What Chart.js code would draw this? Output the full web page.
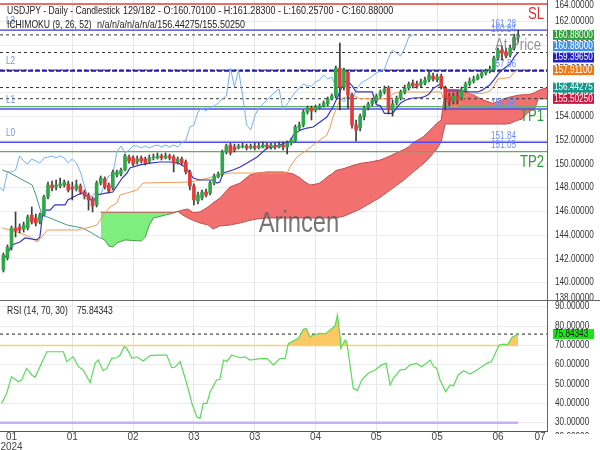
<!DOCTYPE html>
<html>
<head>
<meta charset="utf-8">
<script src="https://cdn.jsdelivr.net/npm/chart.js@4.4.1/dist/chart.umd.min.js"></script>
<style>
  body { margin: 0; background: #fff; }
  #wrap { position: relative; width: 600px; height: 450px; }
  canvas { position: absolute; left: 0; }
</style>
</head>
<body>
<div id="wrap">
  <canvas id="priceChart" width="600" height="300" style="top:0"></canvas>
  <canvas id="rsiChart" width="600" height="150" style="top:300px"></canvas>
</div>
<script>
// daily candles, USDJPY (bar index 0 = first visible day)
const opens = [141.07,142.08,143.01,144.61,144.69,144.52,144.61,145.70,145.45,145.11,
  145.70,147.22,148.23,148.06,148.15,148.23,148.32,148.06,147.89,148.15,
  147.64,147.39,147.05,146.55,148.40,148.74,148.23,147.98,149.07,149.16,
  149.49,150.59,150.51,150.17,150.51,150.42,150.25,150.51,150.51,150.68,
  150.51,150.68,150.59,150.17,150.42,150.17,149.33,148.15,146.88,147.13,
  147.64,147.56,148.40,148.91,149.16,151.01,151.60,151.43,151.35,151.43,
  151.52,151.35,151.52,151.35,151.43,151.60,151.43,151.52,151.43,151.60,
  151.43,151.77,151.94,153.03,153.29,154.38,154.72,154.55,154.72,154.89,
  155.06,155.48,155.73,158.09,156.49,157.75,155.81,153.29,153.03,153.96,
  154.72,155.06,155.31,155.73,156.07,156.40,154.55,155.14,155.56,156.07,
  156.40,156.82,156.74,156.66,156.82,157.08,157.41,157.08,157.41,156.40,
  155.73,155.31,155.73,155.56,156.23,156.74,156.99,157.16,157.41,157.67,
  157.84,157.92,158.93,159.60,159.44,159.18,159.77,160.701];
const highs = [142.50,143.18,144.78,145.96,144.95,145.11,145.70,146.38,145.79,145.87,
  147.39,148.48,148.57,148.65,148.82,148.65,148.57,148.48,148.65,148.32,
  147.81,147.56,147.22,148.57,148.99,148.91,148.40,149.49,149.49,149.66,
  150.84,150.76,150.68,150.68,150.68,150.59,150.76,150.84,150.93,150.84,
  150.93,150.84,150.76,150.59,150.59,150.34,149.49,148.32,147.64,147.81,
  147.89,148.57,149.16,149.33,151.18,151.68,151.77,151.68,151.68,151.77,
  151.68,151.68,151.77,151.77,151.85,151.77,151.77,151.77,151.85,151.85,
  151.94,152.19,153.29,153.54,154.55,154.89,154.89,154.97,155.06,155.31,
  155.65,155.90,158.26,160.19,158.09,157.92,155.98,153.71,154.21,154.89,
  155.22,155.56,155.90,156.23,156.57,156.57,155.39,155.73,156.23,156.66,
  156.91,157.08,156.99,157.16,157.33,157.75,157.67,157.58,157.58,156.57,
  155.98,155.98,156.07,156.49,156.91,157.25,157.41,157.58,157.84,158.00,
  158.26,159.10,159.77,159.94,159.77,160.03,160.95,161.283];
const lows = [140.90,141.91,142.75,143.85,144.19,144.27,144.44,144.95,144.78,144.95,
  145.62,147.05,147.73,147.81,147.98,148.06,147.64,146.97,147.73,147.47,
  147.05,146.12,145.96,146.38,148.23,147.89,147.56,147.81,148.91,148.99,
  149.41,150.08,149.83,150.00,150.08,149.92,150.08,150.34,150.42,150.34,
  150.42,150.34,149.33,150.00,149.92,149.16,147.81,146.55,146.63,146.97,
  147.22,147.39,148.23,148.82,148.99,150.84,150.76,151.01,151.26,151.35,
  151.18,151.26,151.18,151.26,151.35,151.26,151.26,151.26,151.35,151.18,
  150.84,151.60,151.85,152.86,153.12,154.21,153.71,154.38,154.64,154.80,
  154.89,155.39,155.56,154.55,156.23,154.72,153.03,151.94,152.78,153.71,
  154.55,154.89,155.14,155.56,155.90,154.21,154.04,154.97,155.39,155.90,
  156.23,156.40,156.40,156.49,156.66,156.91,156.99,156.91,156.32,154.55,
  154.89,155.06,155.06,155.39,156.07,156.57,156.82,157.08,157.25,157.50,
  157.67,157.75,158.76,158.76,158.93,159.01,159.60,160.257];
const closes = [142.33,143.01,144.61,144.36,144.44,144.86,145.54,145.11,145.03,145.70,
  147.22,148.23,147.98,148.23,148.32,148.48,147.81,147.89,148.23,147.64,
  147.30,146.97,146.46,148.40,148.82,148.06,147.73,149.33,149.33,149.49,
  150.68,150.25,150.00,150.42,150.25,150.08,150.51,150.59,150.68,150.51,
  150.68,150.51,150.08,150.42,150.08,149.33,148.15,146.97,147.39,147.64,
  147.39,148.40,148.99,149.16,151.01,151.52,150.93,151.18,151.52,151.52,
  151.35,151.52,151.35,151.52,151.60,151.43,151.60,151.43,151.60,151.43,
  151.77,152.02,153.12,153.29,154.38,154.72,154.47,154.80,154.89,155.14,
  155.48,155.73,158.09,156.49,157.92,155.81,153.29,152.86,154.04,154.72,
  155.06,155.39,155.73,156.07,156.32,154.55,155.06,155.56,156.07,156.40,
  156.74,156.57,156.57,156.91,157.08,157.50,157.16,157.33,156.49,155.56,
  155.22,155.73,155.39,156.23,156.74,156.99,157.16,157.41,157.67,157.84,
  158.00,158.93,159.60,159.35,159.10,159.77,160.70,160.88];

// ichimoku lines as [bar, price]
const tenkan = [[-0.3,141.91],[0.9,142.33],[2.1,143.18],[4.1,143.43],[5.3,143.77],[8.3,143.60],[9.0,143.85],
  [9.8,146.12],[11.5,146.12],[12.7,146.55],[15.2,146.55],[15.9,146.97],[18.2,147.39],[19.6,147.56],[20.9,147.22],
  [22.1,146.80],[23.1,147.39],[25.6,147.56],[27.0,147.64],[29.3,148.82],[30.5,149.24],[31.2,149.66],[33.7,149.92],
  [36.2,150.08],[38.6,150.17],[41.1,150.17],[43.1,150.08],[44.8,149.75],[46.0,149.24],[46.8,148.82],[48.5,148.65],
  [51.7,148.65],[52.7,148.40],[53.4,148.48],[54.2,149.24],[56.6,149.49],[58.4,149.75],[60.1,150.08],[62.6,150.59],
  [65.0,151.35],[66.5,151.43],[68.2,151.60],[70.0,151.85],[70.7,151.85],[71.5,152.44],[73.2,152.86],[74.9,153.03],
  [76.4,153.12],[78.1,153.54],[79.8,153.96],[81.3,154.80],[83,156.07],[84,156.95],[85,156.95],[86,156.61],[87,156.07],
  [91,156.07],[92,155.00],[93,154.90],[94,154.26],[96,154.26],[97,154.70],[98,155.14],[99,155.35],[100,155.48],
  [101,155.56],[103,155.60],[104,155.69],[105,155.90],[106,156.36],[107,156.57],[108,156.80],[109,156.15],[114,156.15],
  [115,156.07],[117,156.07],[118,156.20],[119,156.45],[120,156.66],[121,157.08],[122,157.58],[123,157.92],[124,158.17],
  [125,158.43],[126,159.00],[127,159.40]];
const kijun = [[-0.3,144.61],[1.6,144.44],[4.1,144.19],[6.6,143.85],[8.3,143.43],[9.5,143.85],[10.8,144.44],[18.2,144.44],
  [20.6,144.61],[23.1,144.86],[24.6,145.70],[26.3,146.38],[28.0,146.72],[28.8,147.39],[30.5,147.56],[33.0,147.81],
  [34.4,148.40],[46.0,148.48],[48.5,148.65],[53.4,149.07],[55.9,149.24],[70.0,149.24],[70.7,149.75],[72.4,150.59],
  [74.9,151.18],[76.4,151.60],[78.1,152.02],[79.8,152.44],[80.6,153.12],[81.3,153.96],[82.3,154.80],[83.0,155.39],
  [83.8,155.56],[86.3,155.81],[88,155.50],[95,155.50],[96,155.90],[97,156.02],[98,156.07],[108,156.07],[109,155.00],
  [110,154.93],[111,154.85],[112,154.85],[113,155.27],[114,155.73],[115,155.90],[118,155.94],[119,156.02],[120,156.15],
  [121,156.57],[122,157.16],[125,157.29],[126,157.75],[127,157.91]];
const spanLead = [[-0.3,149.49],[1.1,149.33],[7.1,148.23],[8.0,147.39],[9.5,145.70],[11.5,145.45],[15.7,144.86],
  [19.4,144.61],[21.4,144.27],[23.8,143.77],[24,143.77]];
const cloudBars = [24,25,26,27,28,30,34,35,36,37,40,42,43,44,45.5,46.8,48.5,50.5,51.7,53.4,
  55.9,58.4,60.8,62.6,65,69,71.5,73.2,74.4,75.6,76,77,78,79,80,81,82,84,86,87,
  88,90.5,93,95.4,97,98,99,100,101,103.5,105.3,106,107,108,109,112.7,116,118.3,120.8,124,
  125,126,127,128,129,130,131,132,133,134.2];
const spanA = [143.77,143.60,143.09,143.01,143.35,143.60,143.51,143.85,144.86,145.45,
  145.70,145.87,146.00,146.10,146.21,145.90,145.96,146.38,146.72,147.13,
  148.06,148.40,149.07,149.24,149.33,149.33,149.16,148.82,148.48,148.23,
  148.25,148.30,148.40,148.65,148.95,149.15,149.45,149.62,149.85,149.95,
  150.05,150.17,150.34,150.68,150.95,151.10,151.25,151.45,151.77,152.27,
  152.86,153.10,153.45,153.71,156.30,156.25,155.80,155.40,155.10,155.55,
  155.65,155.72,155.80,155.83,155.85,155.88,156.00,156.20,156.32,156.44];
const spanB = [145.93,145.93,145.93,145.93,145.93,145.93,145.93,145.93,145.93,145.93,
  145.93,145.93,146.00,145.75,145.45,145.25,145.03,144.86,144.52,144.78,
  144.86,145.03,145.25,145.37,145.45,145.45,145.45,145.45,145.45,145.45,
  145.45,145.45,145.45,145.45,145.45,145.45,145.45,145.60,145.90,146.05,
  146.20,146.70,147.20,147.80,148.20,148.45,148.70,149.00,149.30,150.00,
  150.60,150.90,151.30,151.90,153.37,153.37,153.37,153.37,153.37,153.37,
  153.41,153.58,153.70,153.79,154.21,154.50,154.59,155.52,155.48,155.50];

// RSI(14) as [bar, value]
const rsi = [[-0.4,40.0],[0.8,45.2],[2.0,53.8],[3.7,51.2],[4.5,52.1],[5.7,58.1],[7.0,54.7],[7.8,53.5],[10.7,66.7],
  [14.8,66.7],[15.6,61.6],[17.2,64.1],[18.5,59.0],[19.7,57.3],[21.4,50.7],[22.6,60.7],[23.4,62.4],[24.6,56.9],
  [25.5,58.1],[26.7,63.3],[28.0,63.6],[28.8,65.0],[29.8,69.3],[30.4,68.5],[31.7,63.3],[32.9,64.1],[34.5,61.9],
  [36.2,64.7],[37.8,65.0],[40.3,65.0],[41.5,58.5],[42.3,58.7],[43.6,61.6],[45.2,50.4],[46.5,40.0],[47.7,33.1],
  [48.5,32.3],[49.3,40.0],[50.2,40.0],[51.0,46.0],[52.6,52.1],[53.4,52.5],[54.3,62.4],[55.1,61.6],[56.3,65.0],
  [57.6,64.1],[58.4,63.6],[59.6,64.1],[60.8,62.4],[62.9,63.0],[65.0,63.3],[66.6,59.9],[68.2,63.2],[69.5,63.3],
  [70.3,71.0],[71.5,72.2],[72.8,73.7],[74.0,78.3],[74.7,78.8],[75.6,74.5],[76.5,75.4],[78.1,76.2],[79.4,75.9],
  [80.6,78.0],[81.8,80.0],[82.4,85.7],[83.1,73.7],[83.2,68.5],[84.3,72.8],[84.7,71.9],[86.3,47.8],[87.3,46.6],
  [88.4,52.1],[90.0,55.6],[91.7,57.3],[93.3,59.9],[94.4,60.7],[95.4,49.5],[96.2,53.0],[97.9,57.3],[99.1,57.6],
  [100.3,59.9],[101.9,60.7],[103.2,59.0],[105.3,62.4],[106.1,59.0],[106.9,58.1],[107.7,52.1],[109.1,46.0],
  [110.2,49.5],[111.0,49.0],[112.2,54.7],[113.5,56.9],[115.1,55.2],[116.8,57.3],[119.3,60.7],[120.4,61.6],
  [122.3,70.2],[123.5,70.6],[124.3,70.2],[125.5,74.2],[127,75.84]];

// levels
const slLevel = 163.48, l3Level = 161.28, l2Level = 157.86, l1Level = 154.64, l0Level = 151.84;
const tp1Level = 154.83, tp2Level = 151.05;
const lastClose = 160.88, tenkanNow = 159.3965, kijunNow = 157.911, spanANow = 156.44275, spanBNow = 155.5025;
const rsiNow = 75.84343, rsiHigh = 70, rsiLow = 30;
const levelTags = [[161.28,'161.28'],[160.84,'160.84'],[157.86,'157.86'],[154.64,'154.64'],[154.51,'154.51'],[151.84,'151.84'],[151.05,'151.05']];

// axes
const xTickBars = [2,17,32,47,62,77,92,107,122,132.4];
const xTickLabels = ['01','01','02','03','03','04','05','05','06','07'];
const yearLabel = '2024';
const priceTicks = [140,142,144,146,148,150,152,154,156,158,160,162];
const rsiTicks = [30,40,50,60,70,80,90];
const xMin = -0.84, xMax = 134.1;

const FONT = '"Liberation Sans", Arial, sans-serif';
Chart.defaults.font.family = FONT;
Chart.defaults.font.size = 10;
Chart.defaults.color = '#333';

const up = '#2fa64a', down = '#e23a3a';
const pts = arr => arr.map(([x, y]) => ({ x, y }));
const flat = (v, a = xMin, b = xMax) => [{ x: a, y: v }, { x: b, y: v }];
const noPad = s => { s.paddingTop = 0; s.paddingBottom = 0; s.paddingLeft = 0; s.paddingRight = 0; };
const gridX = c => (c.tick && (c.tick.value < 5 || c.tick.value > 130) ? 'rgba(0,0,0,0)' : '#e6e6e6');

// narrow text: Arial squeezed to Arial Narrow proportions
function txt(ctx, s, x, y, size, color, align) {
  ctx.save();
  ctx.font = `${size}px ${FONT}`;
  ctx.fillStyle = color;
  ctx.textAlign = align || 'left';
  ctx.textBaseline = 'middle';
  ctx.translate(x, y);
  ctx.scale(0.82, 1);
  ctx.fillText(s, 0, 0);
  ctx.restore();
}

function axisLabels(ctx, scale, extra, clipBottom) {
  ctx.save();
  ctx.beginPath();
  ctx.rect(548, 0, 52, clipBottom);
  ctx.clip();
  scale.ticks.forEach(t => txt(ctx, t.value.toFixed(5), 555, scale.getPixelForValue(t.value), 10, '#333'));
  (extra || []).forEach(([s, py]) => txt(ctx, s, 555, py, 10, '#333'));
  ctx.restore();
}

function badges(ctx, scale, items, gap) {
  let last = -Infinity;
  items.map(it => Object.assign({ py: scale.getPixelForValue(it.v) }, it))
    .sort((a, b) => a.py - b.py)
    .forEach(it => {
      const cy = Math.max(it.py, last + gap);
      last = cy;
      ctx.fillStyle = it.bg;
      ctx.fillRect(553, cy - 5, 41, 10);
      txt(ctx, it.v.toFixed(5), 554, cy, 10, it.fg || '#fff');
    });
}

const levelSet = [
  [slLevel, '#ec6b6b', 2, []],
  [l3Level, '#3a3ac4', 1.2, []],
  [lastClose, '#333', 1, [3, 3]],
  [tenkanNow, '#333', 1, [3, 3]],
  [l2Level, '#1c1ca8', 2, [5, 2]],
  [kijunNow, '#333', 1, [3, 3]],
  [spanANow, '#333', 1, [3, 3]],
  [spanBNow, '#333', 1, [3, 3]],
  [tp1Level, '#62ad62', 1.3, []],
  [l1Level, '#4c4cf0', 1.5, []],
  [l0Level, '#4c4cf0', 1.5, []],
  [tp2Level, '#62ad62', 1.3, []]
];

const datasets = [
  { type: 'bar', data: closes.map((c, i) => ({ x: i, y: [lows[i], highs[i]] })),
    backgroundColor: '#3d3d3d', barThickness: 1, grouped: false, order: 2 },
  { type: 'bar', data: closes.map((c, i) => ({ x: i, y: [opens[i], c] })),
    backgroundColor: closes.map((c, i) => (c >= opens[i] ? up : down)),
    barThickness: 3, minBarLength: 1, grouped: false, order: 1 },
  { data: pts(tenkan), borderColor: '#3535c8', borderWidth: 1.2, order: 5 },
  { data: pts(kijun), borderColor: '#f39a55', borderWidth: 1, order: 5 },
  { data: closes.map((c, i) => ({ x: i - 26, y: c })), borderColor: '#74b2f2', borderWidth: 1, order: 5 },
  { data: pts(spanLead), borderColor: '#3f9c86', borderWidth: 1, order: 5 }
];
levelSet.forEach(([v, color, w, dash]) => {
  datasets.push({ data: flat(v), borderColor: color, borderWidth: w, borderDash: dash, order: 6 });
});
const spanBIndex = datasets.length;
datasets.push({ data: cloudBars.map((b, i) => ({ x: b, y: spanB[i] })), borderColor: '#b85050', borderWidth: 1, order: 10 });
datasets.push({
  data: cloudBars.map((b, i) => ({ x: b, y: spanA[i] })),
  borderWidth: 1,
  segment: { borderColor: c => (spanA[c.p0DataIndex] >= spanB[c.p0DataIndex] ? '#c24a4a' : '#41a341') },
  fill: { target: spanBIndex, above: 'rgb(243,112,112)', below: 'rgb(126,238,126)' },
  order: 10
});

const priceOverlay = {
  id: 'priceOverlay',
  beforeDatasetDraw(chart, args) {
    if (args.index !== 0) return;
    const { ctx, scales: { y } } = chart;
    levelTags.forEach(([v, s]) => txt(ctx, s, 491, y.getPixelForValue(v) - 6, 10, '#6f8ff2'));
  },
  afterDatasetsDraw(chart) {
    const { ctx, scales: { y } } = chart;
    txt(ctx, 'Arincen', 299, 224, 29, 'rgba(95,95,95,0.85)', 'center');
    txt(ctx, 'At Price', 495, 46, 16, 'rgba(120,120,120,0.8)');
    txt(ctx, 'SL', 544, y.getPixelForValue(slLevel) + 11, 16, '#e0322f', 'right');
    txt(ctx, 'TP1', 544, y.getPixelForValue(tp1Level) + 10, 16, '#2f9a3a', 'right');
    txt(ctx, 'TP2', 544, y.getPixelForValue(tp2Level) + 11, 16, '#2f9a3a', 'right');
    [[l3Level, 'L3'], [l2Level, 'L2'], [l1Level, 'L1'], [l0Level, 'L0']].forEach(([v, s]) =>
      txt(ctx, s, 6, y.getPixelForValue(v) - 9, 10, '#6f8ff2'));
  },
  afterDraw(chart) {
    const { ctx, scales: { y } } = chart;
    txt(ctx, 'USDJPY - Daily - Candlestick', 7, 11, 10.5, '#222');
    txt(ctx, '129/182 - O:160.70100 - H:161.28300 - L:160.25700 - C:160.88000', 123, 11, 11, '#222');
    txt(ctx, 'ICHIMOKU (9, 26, 52)', 7, 25, 10.5, '#222');
    txt(ctx, 'n/a/n/a/n/a/n/a/156.44275/155.50250', 97, 25, 11, '#222');
    axisLabels(ctx, y, [['164.00000', 5], ['138.00000', 298]], 300);
    badges(ctx, y, [
      { v: lastClose, bg: '#2e9e3c' },
      { v: lastClose, bg: '#3f91e6' },
      { v: tenkanNow, bg: '#1e1ec4' },
      { v: kijunNow, bg: '#ee7a16' },
      { v: spanANow, bg: '#17968a' },
      { v: spanBNow, bg: '#c9163e' }
    ], 11.3);
  }
};

new Chart(document.getElementById('priceChart'), {
  type: 'line',
  data: { datasets },
  options: {
    responsive: false,
    animation: false,
    events: [],
    layout: { padding: 0 },
    elements: { point: { radius: 0 }, line: { tension: 0, fill: false } },
    plugins: { legend: { display: false }, tooltip: { enabled: false } },
    scales: {
      x: {
        type: 'linear', min: xMin, max: xMax, offset: false,
        afterBuildTicks: s => { s.ticks = xTickBars.map(v => ({ value: v })); },
        afterFit: s => { s.height = 0; noPad(s); },
        ticks: { display: false },
        grid: { color: gridX, drawTicks: false, offset: false },
        border: { display: false }
      },
      y: {
        position: 'right', min: 138.54, max: 163.82,
        afterBuildTicks: s => { s.ticks = priceTicks.map(v => ({ value: v })); },
        afterFit: s => { s.width = 53; noPad(s); },
        ticks: { display: false },
        grid: { color: '#ebebeb', drawTicks: false },
        border: { color: '#666' }
      }
    }
  },
  plugins: [priceOverlay]
});

const rsiOverlay = {
  id: 'rsiOverlay',
  afterDraw(chart) {
    const { ctx, scales: { y } } = chart;
    ctx.save();
    ctx.strokeStyle = '#666';
    ctx.lineWidth = 1;
    ctx.beginPath();
    ctx.moveTo(0, 0.5);
    ctx.lineTo(600, 0.5);
    ctx.stroke();
    ctx.restore();
    txt(ctx, 'RSI (14, 70, 30)', 7, 11, 10.5, '#222');
    txt(ctx, rsiNow.toFixed(5), 77, 11, 10.5, '#222');
    axisLabels(ctx, y, [['20.00000', 137]], 134);
    badges(ctx, y, [{ v: rsiNow, bg: '#1de51d', fg: '#1a1a1a' }], 11);
  }
};

new Chart(document.getElementById('rsiChart'), {
  type: 'line',
  data: {
    datasets: [
      { data: pts(rsi), borderColor: '#58dc58', borderWidth: 1.2, order: 1,
        fill: { target: { value: rsiHigh }, above: 'rgb(252,200,100)', below: 'rgba(0,0,0,0)' } },
      { data: flat(rsiHigh, xMin, closes.length - 1), borderColor: '#f8d27a', borderWidth: 1.5, order: 2 },
      { data: flat(rsiLow, xMin, closes.length - 1), borderColor: '#c9aef5', borderWidth: 2.5, order: 2 },
      { data: flat(rsiNow), borderColor: '#222', borderWidth: 1, borderDash: [3, 3], order: 2 }
    ]
  },
  options: {
    responsive: false,
    animation: false,
    events: [],
    layout: { padding: { top: 1 } },
    elements: { point: { radius: 0 }, line: { tension: 0 } },
    plugins: { legend: { display: false }, tooltip: { enabled: false } },
    scales: {
      x: {
        type: 'linear', min: xMin, max: xMax, offset: false,
        afterBuildTicks: s => { s.ticks = xTickBars.map(v => ({ value: v })); },
        afterFit: s => { s.height = 19; noPad(s); },
        ticks: {
          autoSkip: false, maxRotation: 0, minRotation: 0, padding: 1, color: '#444',
          font: { size: 10, lineHeight: 1 },
          callback: (v, i) => (i === 0 ? [xTickLabels[0], yearLabel] : xTickLabels[i])
        },
        grid: { color: gridX, drawTicks: false, offset: false },
        border: { color: '#555' }
      },
      y: {
        position: 'right', min: 25.71, max: 92.96,
        afterBuildTicks: s => { s.ticks = rsiTicks.map(v => ({ value: v })); },
        afterFit: s => { s.width = 53; noPad(s); },
        ticks: { display: false },
        grid: { color: '#ebebeb', drawTicks: false },
        border: { color: '#666' }
      }
    }
  },
  plugins: [rsiOverlay]
});
</script>
</body>
</html>
